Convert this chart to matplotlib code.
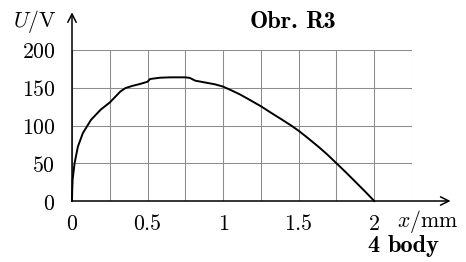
import numpy as np
import matplotlib
matplotlib.use("Agg")
import matplotlib.pyplot as plt

plt.rcParams["mathtext.fontset"] = "cm"
plt.rcParams["font.family"] = ["DejaVu Serif"]

# displacement x [mm] and voltage U [V]
x_mm = [0, 0.001, 0.004, 0.017, 0.039, 0.072, 0.126, 0.19, 0.25, 0.32,
        0.354, 0.40, 0.45, 0.50, 0.517, 0.583, 0.65, 0.75, 0.78, 0.815,
        0.88, 0.947, 1.00, 1.05, 1.113, 1.18, 1.25, 1.32, 1.38, 1.45,
        1.50, 1.56, 1.63, 1.69, 1.75, 1.82, 1.88, 1.94, 2.00]
u_v = [0, 12, 28, 50, 72, 90, 107.5, 121, 130.5, 145,
       149.6, 152.5, 155, 158, 161.6, 163.3, 163.8, 163.8, 163, 159.4,
       157, 154.5, 151.5, 147, 141, 133.5, 125.5, 116.5, 109, 100,
       93, 83.5, 72, 61.5, 50, 36.5, 24.5, 12.5, 0]

x_ticks = [0, 0.5, 1, 1.5, 2]
x_tick_labels = ["0", "0.5", "1", "1.5", "2"]
y_ticks = [0, 50, 100, 150, 200]

W, H = 466, 262
FS = 15.7
FS_BOLD = 17.5
fig = plt.figure(figsize=(W / 100, H / 100), dpi=100)
# axes box in pixels: x 72..412 (0..2.25), y 201..50 (0..200)
ax = fig.add_axes([72 / W, 1 - 201 / H, (412 - 72) / W, (201 - 50) / H])
ax.set_xlim(0, 2.25)
ax.set_ylim(0, 200)

ax.set_xticks(x_ticks)
ax.set_xticks(np.arange(0, 2.26, 0.25), minor=True)
ax.set_yticks(y_ticks)
ax.set_xticklabels([f"${t}$" for t in x_tick_labels])
ax.set_yticklabels([f"${t}$" for t in y_ticks])
ax.grid(True, which="both", axis="x", color="0.55", linewidth=0.75)
ax.grid(True, which="major", axis="y", color="0.55", linewidth=0.75)
ax.tick_params(which="both", length=0, labelsize=FS)
ax.tick_params(axis="y", pad=12)
ax.tick_params(axis="x", pad=9)
for s in ax.spines.values():
    s.set_visible(False)

ax.plot(x_mm, u_v, color="black", linewidth=1.4, clip_on=False, zorder=3)

# axis arrows
arrow = dict(arrowstyle="->", color="black", linewidth=1.1,
             shrinkA=0, shrinkB=0, mutation_scale=15)
ax.annotate("", xy=(2.505, 0), xytext=(0, 0), arrowprops=arrow,
            annotation_clip=False, zorder=4)
ax.annotate("", xy=(0, 250), xytext=(0, 0), arrowprops=arrow,
            annotation_clip=False, zorder=4)

fig.text(13 / W, 1 - 27 / H, r"$U/\mathrm{V}$", fontsize=FS,
         ha="left", va="baseline")
# bold caption, words placed separately to keep the wide TeX spacing
fig.text(250 / W, 1 - 28 / H, "Obr.", family="cmb10", fontsize=FS_BOLD,
         ha="left", va="baseline")
fig.text(305 / W, 1 - 28 / H, "R3", family="cmb10", fontsize=FS_BOLD,
         ha="left", va="baseline")
fig.text(397 / W, 1 - 227 / H, r"$x/\mathrm{mm}$", fontsize=FS,
         ha="left", va="baseline")
fig.text(367 / W, 1 - 252 / H, "4", family="cmb10", fontsize=FS_BOLD,
         ha="left", va="baseline")
fig.text(388 / W, 1 - 252 / H, "body", family="cmb10", fontsize=FS_BOLD,
         ha="left", va="baseline")

fig.savefig("out.png", dpi=100)
